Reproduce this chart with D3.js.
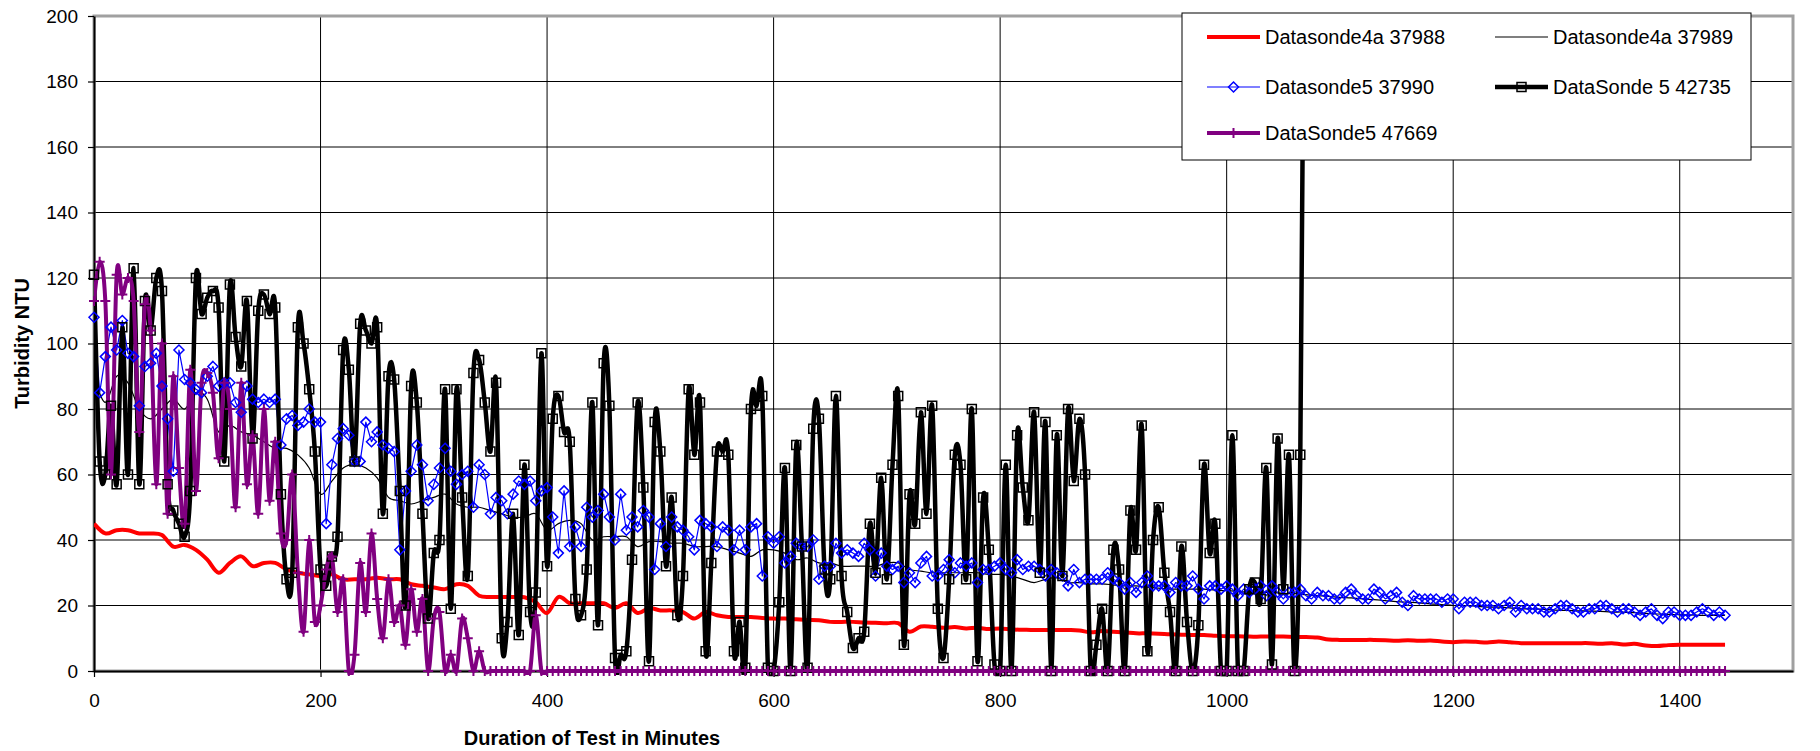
<!DOCTYPE html>
<html>
<head>
<meta charset="utf-8">
<script src="https://cdn.jsdelivr.net/npm/d3@7/dist/d3.min.js"></script>
<style>
  html, body { margin: 0; padding: 0; background: #fff; }
  svg { display: block; font-family: "Liberation Sans", Arial, sans-serif; }
</style>
</head>
<body>
<svg id="chart" width="1820" height="751"></svg>
<script>
// readings every 10 minutes (no markers on these two)
const STEP_10 = 10;
// readings every 5 minutes (the marker series)
const STEP_5 = 5;

const xTicks = [0, 200, 400, 600, 800, 1000, 1200, 1400];
const yTicks = [0, 20, 40, 60, 80, 100, 120, 140, 160, 180, 200];

// Datasonde4a 37988, one row per hour
const sonde37988 = [
  45, 42, 43, 43, 42, 42,
  41.5, 38, 38.5, 37, 34, 30,
  33, 35, 32, 33, 33, 31,
  30, 29.5, 29, 29.5, 28, 28,
  28, 28.5, 28, 28, 26.5, 26,
  25.5, 25, 26.5, 26, 23, 22.6,
  22.6, 22.6, 22.5, 21, 17.7, 22.6,
  20.7, 20.7, 20.7, 20.7, 19.2, 20.7,
  17.7, 19.2, 18.5, 18.5, 18, 16,
  18, 17, 16.5, 16.5, 16.5, 16.2,
  16, 16, 15.8, 15.6, 15.5, 15,
  15, 15, 14.8, 14.7, 14.6, 14.6,
  12, 13.6, 13.5, 13.2, 13.4, 13,
  13.2, 12.8, 13, 12.7, 12.6, 12.5,
  12.5, 12.5, 12.5, 12.4, 11.8, 12.2,
  12, 11.8, 11.5, 11.5, 11.4, 11.2,
  11.1, 11, 11, 10.8, 10.6, 10.6,
  10.5, 10.5, 10.5, 10.5, 10.4, 10.4,
  10.2, 9.6, 9.5, 9.5, 9.5, 9.5,
  9.4, 9.2, 9.4, 9.2, 9.3, 9,
  8.8, 9, 8.9, 8.7, 9, 8.8,
  8.5, 8.5, 8.5, 8.5, 8.5, 8.5,
  8.5, 8.3, 8.5, 8.1, 8.3, 7.8,
  7.6, 7.9, 8, 8, 8, 8,
  8
];

// Datasonde4a 37989
const sonde37989 = [
  90, 82, 90, 88, 80, 77,
  80, 83, 80, 85, 83, 73,
  75, 73, 72, 70, 68, 68,
  66, 62, 54, 58, 62, 63,
  62, 59, 53, 52, 51, 52,
  53, 54, 51, 50, 50, 49,
  48, 47, 47, 48, 43, 45,
  46, 45, 40, 41, 41, 41,
  38, 39.5, 39.5, 39, 39, 38,
  38, 38, 37, 36, 35, 37,
  37, 36, 34, 34.5, 33, 33,
  32, 32, 32, 32, 33, 33,
  31, 30.5, 30, 30, 30, 30,
  30, 29.5, 29.5, 29, 28, 27,
  28, 28.5, 27, 27, 26.6, 26.6,
  26.3, 26, 26, 25.6, 25.3, 25,
  25, 25, 25, 24.7, 24.5, 24.3,
  24, 24, 24, 23.7, 23.6, 23.3,
  23, 22.8, 22.5, 22.3, 22, 21.8,
  21.5, 21.2, 21, 20.8, 20.5, 20.3,
  20, 20, 19.8, 19.5, 19.5, 19.3,
  19, 19, 18.8, 18.6, 18.5, 18.4,
  18.3, 18.2, 18, 18, 17.8, 17.6,
  17.4, 17.3, 17.2, 17.1, 17, 17,
  17
];

// Datasonde5 37990
const sonde37990 = [
  108, 85, 96, 105, 98, 107, 97, 96, 81, 93, 94, 97,
  87, 77, 61, 98, 89, 88, 86, 85, 90, 93, 87, 88,
  88, 82, 79, 87, 83, 82, 83, 82, 83, 69, 77, 78,
  75, 76, 80, 76, 76, 45, 63, 71, 74, 72, 64, 64,
  76, 70, 73, 69, 68, 67, 37, 55, 61, 69, 63, 52,
  57, 62, 68, 61, 57, 60, 61, 50, 63, 60, 48, 53,
  52, 48, 54, 58, 57, 58, 52, 55, 56, 47, 36, 55,
  38, 44, 38, 50, 47, 49, 54, 47, 40, 54, 43, 47,
  44, 49, 47, 31, 45, 38, 47, 44, 43, 41, 37, 46,
  45, 44, 38, 44, 43, 37, 43, 37, 44, 45, 29, 41,
  39, 41, 33, 35, 39, 38, 38, 40, 28, 32, 32, 39,
  36, 37, 36, 35, 39, 37, 29, 36, 32, 31, 32, 27,
  30, 27, 33, 35, 29, 29, 31, 34, 30, 33, 32, 33,
  27, 31, 31, 32, 33, 31, 30, 34, 31, 32, 32, 31,
  29, 31, 30, 29, 26, 31, 27, 28, 28, 28, 28, 30,
  28, 27, 25, 27, 24, 27, 29, 26, 26, 26, 24, 27,
  26, 26, 29, 25, 22, 26, 26, 25, 26, 25, 23, 25,
  24, 25, 26, 23, 26, 24, 22, 24, 24, 25, 23, 22,
  24, 23, 23, 22, 22, 24, 25, 23, 22, 22, 25, 24,
  22, 23, 24, 21, 20, 23, 22, 22, 22, 22, 21, 22,
  22, 19, 21, 21, 21, 20, 20, 20, 19, 20, 21, 18,
  20, 19, 19, 19, 18, 18, 19, 20, 20, 19, 18, 18,
  19, 19, 20, 20, 19, 18, 19, 19, 18, 17, 18, 19,
  17, 16, 18, 18, 17, 17, 17, 18, 19, 18, 17, 18,
  17
];

// DataSonde 5 42735 (last reading is far off the scale)
const sonde42735 = [
  121, 64, 60, 81, 57, 105, 60, 123, 57, 113, 104, 120,
  116, 57, 49, 45, 41, 55, 120, 109, 114, 116, 111, 64,
  118, 102, 93, 113, 71, 110, 115, 109, 111, 54, 28, 30,
  105, 100, 86, 67, 31, 26, 35, 41, 98, 92, 64, 106,
  104, 100, 105, 48, 90, 89, 55, 20, 87, 82, 48, 16,
  36, 40, 86, 19, 86, 53, 29, 91, 95, 82, 67, 88,
  10, 15, 48, 11, 63, 18, 24, 97, 32, 77, 84, 73,
  70, 22, 17, 31, 82, 14, 94, 81, 4, 5, 6, 34,
  82, 56, 3, 76, 67, 32, 53, 17, 29, 86, 66, 82,
  6, 33, 67, 67, 66, 6, 15, 1, 80, 81, 84, 1,
  0, 21, 62, 0, 69, 38, 1, 74, 77, 31, 28, 84,
  29, 18, 7, 10, 12, 45, 30, 59, 28, 63, 84, 8,
  54, 45, 79, 48, 81, 19, 4, 28, 66, 63, 28, 80,
  3, 53, 37, 2, 0, 63, 0, 72, 56, 46, 79, 30,
  76, 0, 72, 29, 80, 58, 77, 60, 0, 8, 19, 0,
  37, 31, 0, 49, 37, 75, 6, 40, 50, 30, 18, 0,
  38, 15, 0, 14, 63, 36, 45, 0, 0, 72, 0, 0,
  25, 27, 22, 62, 2, 71, 25, 66, 0, 66, 320
];

// DataSonde5 47669
const sonde47669 = [
  113, 125, 113, 60, 121, 115, 120, 113, 73, 112, 104, 57,
  100, 48, 90, 62, 45, 92, 55, 88, 91, 85, 65, 88,
  80, 50, 88, 57, 72, 48, 80, 52, 70, 42, 40, 60,
  30, 12, 40, 15, 20, 31, 35, 18, 28, 0, 5, 33,
  18, 42, 22, 10, 28, 15, 20, 8, 25, 12, 22, 0,
  16, 18, 0, 5, 0, 16, 10, 0, 6, 0, 0, 0,
  0, 0, 0, 0, 0, 0, 17, 0, 0, 0, 0, 0,
  0, 0, 0, 0, 0, 0, 0, 0, 0, 0, 0, 0,
  0, 0, 0, 0, 0, 0, 0, 0, 0, 0, 0, 0,
  0, 0, 0, 0, 0, 0, 0, 0, 0, 0, 0, 0,
  0, 0, 0, 0, 0, 0, 0, 0, 0, 0, 0, 0,
  0, 0, 0, 0, 0, 0, 0, 0, 0, 0, 0, 0,
  0, 0, 0, 0, 0, 0, 0, 0, 0, 0, 0, 0,
  0, 0, 0, 0, 0, 0, 0, 0, 0, 0, 0, 0,
  0, 0, 0, 0, 0, 0, 0, 0, 0, 0, 0, 0,
  0, 0, 0, 0, 0, 0, 0, 0, 0, 0, 0, 0,
  0, 0, 0, 0, 0, 0, 0, 0, 0, 0, 0, 0,
  0, 0, 0, 0, 0, 0, 0, 0, 0, 0, 0, 0,
  0, 0, 0, 0, 0, 0, 0, 0, 0, 0, 0, 0,
  0, 0, 0, 0, 0, 0, 0, 0, 0, 0, 0, 0,
  0, 0, 0, 0, 0, 0, 0, 0, 0, 0, 0, 0,
  0, 0, 0, 0, 0, 0, 0, 0, 0, 0, 0, 0,
  0, 0, 0, 0, 0, 0, 0, 0, 0, 0, 0, 0,
  0, 0, 0, 0, 0, 0, 0, 0, 0, 0, 0, 0,
  0
];

const svg = d3.select("#chart");

// plot area, same box Excel drew
const plotLeft = 94, plotRight = 1793, plotTop = 16, plotBottom = 671;

const x = d3.scaleLinear().domain([0, 1500]).range([plotLeft, plotRight]);
const y = d3.scaleLinear().domain([0, 200]).range([plotBottom, plotTop]);

const toPoints = (vals, step) => vals.map((v, i) => [i * step, v]);

// series styling, drawn in this order
const series = [
  { name: "Datasonde4a 37988", pts: toPoints(sonde37988, STEP_10), color: "#ff0000", width: 4, curve: true, marker: null },
  { name: "Datasonde4a 37989", pts: toPoints(sonde37989, STEP_10), color: "#000000", width: 1.2, curve: true, marker: null },
  { name: "Datasonde5 37990", pts: toPoints(sonde37990, STEP_5), color: "#0000ff", width: 1.2, curve: false, marker: "diamond" },
  { name: "DataSonde 5 42735", pts: toPoints(sonde42735, STEP_5), color: "#000000", width: 4.5, curve: true, marker: "square" },
  { name: "DataSonde5 47669", pts: toPoints(sonde47669, STEP_5), color: "#800080", width: 4, curve: true, marker: "plus" }
];

function markerPath(type, cx, cy) {
  if (type === "diamond") return `M${cx},${cy - 5}L${cx + 5},${cy}L${cx},${cy + 5}L${cx - 5},${cy}Z`;
  if (type === "square") return `M${cx - 4.5},${cy - 4.5}h9v9h-9Z`;
  if (type === "plus") return `M${cx - 5},${cy}H${cx + 5}M${cx},${cy - 5}V${cy + 5}`;
  return "";
}

svg.append("defs").append("clipPath").attr("id", "plotClip")
  .append("rect")
  .attr("x", plotLeft).attr("y", plotTop)
  .attr("width", plotRight - plotLeft).attr("height", plotBottom - plotTop + 4);

// gridlines
svg.append("g")
  .selectAll("line")
  .data(yTicks.filter(d => d > 0 && d < 200))
  .join("line")
  .attr("x1", plotLeft).attr("x2", plotRight)
  .attr("y1", d => y(d)).attr("y2", d => y(d))
  .attr("stroke", "#000").attr("stroke-width", 1);

svg.append("g")
  .selectAll("line")
  .data(xTicks.filter(d => d > 0))
  .join("line")
  .attr("x1", d => x(d)).attr("x2", d => x(d))
  .attr("y1", plotTop).attr("y2", plotBottom)
  .attr("stroke", "#000").attr("stroke-width", 1);

// grey plot area border
svg.append("rect")
  .attr("x", plotLeft).attr("y", plotTop)
  .attr("width", plotRight - plotLeft).attr("height", plotBottom - plotTop)
  .attr("fill", "none")
  .attr("stroke", "#a0a0a0")
  .attr("stroke-width", 3);

// axes
const yAxis = svg.append("g")
  .attr("transform", `translate(${plotLeft},0)`)
  .call(d3.axisLeft(y).tickValues(yTicks).tickFormat(d3.format("d"))
    .tickSize(6).tickSizeOuter(0).tickPadding(10));

const xAxis = svg.append("g")
  .attr("transform", `translate(0,${plotBottom})`)
  .call(d3.axisBottom(x).tickValues(xTicks).tickFormat(d3.format("d"))
    .tickSize(6).tickSizeOuter(0).tickPadding(17));

[yAxis, xAxis].forEach(g => {
  g.select(".domain").attr("stroke", "#000").attr("stroke-width", 2);
  g.selectAll(".tick line").attr("stroke", "#000").attr("stroke-width", 1.2);
  g.selectAll(".tick text")
    .attr("fill", "#000")
    .style("font-size", "19px")
    .style("font-family", "'Liberation Sans', Arial, sans-serif");
});

// series lines
const lineGroup = svg.append("g").attr("clip-path", "url(#plotClip)");

series.forEach(s => {
  const gen = d3.line()
    .x(d => x(d[0]))
    .y(d => y(d[1]))
    .curve(s.curve ? d3.curveCatmullRom.alpha(0) : d3.curveLinear);

  lineGroup.append("path")
    .datum(s.pts)
    .attr("d", gen)
    .attr("fill", "none")
    .attr("stroke", s.color)
    .attr("stroke-width", s.width)
    .attr("stroke-linejoin", "round");

  if (s.marker) {
    svg.append("g")
      .selectAll("path")
      .data(s.pts.filter(d => d[1] <= 200))
      .join("path")
      .attr("d", d => markerPath(s.marker, x(d[0]), y(d[1])))
      .attr("fill", "none")
      .attr("stroke", s.color)
      .attr("stroke-width", s.marker === "plus" ? 2 : 1.5);
  }
});

// axis titles
svg.append("text")
  .attr("transform", `translate(22,${(plotTop + plotBottom) / 2}) rotate(-90)`)
  .attr("text-anchor", "middle")
  .attr("dy", "0.35em")
  .style("font-size", "20px")
  .style("font-weight", "bold")
  .text("Turbidity NTU");

svg.append("text")
  .attr("x", 592)
  .attr("y", 745)
  .attr("text-anchor", "middle")
  .style("font-size", "20px")
  .style("font-weight", "bold")
  .text("Duration of Test in Minutes");

// legend
const legend = svg.append("g");
legend.append("rect")
  .attr("x", 1182).attr("y", 13)
  .attr("width", 569).attr("height", 147)
  .attr("fill", "#fff")
  .attr("stroke", "#000")
  .attr("stroke-width", 1);

const colX = [1207, 1495];
const rowY = [37, 87, 133];

series.forEach((s, i) => {
  const cx = colX[i % 2];
  const cy = rowY[Math.floor(i / 2)];
  const item = legend.append("g");
  item.append("line")
    .attr("x1", cx).attr("x2", cx + 53)
    .attr("y1", cy).attr("y2", cy)
    .attr("stroke", s.color)
    .attr("stroke-width", s.width);
  if (s.marker) {
    item.append("path")
      .attr("d", markerPath(s.marker, cx + 26.5, cy))
      .attr("fill", "none")
      .attr("stroke", s.color)
      .attr("stroke-width", s.marker === "plus" ? 2 : 1.5);
  }
  item.append("text")
    .attr("x", cx + 58)
    .attr("y", cy)
    .attr("dy", "0.35em")
    .style("font-size", "20px")
    .text(s.name);
});
</script>
</body>
</html>
